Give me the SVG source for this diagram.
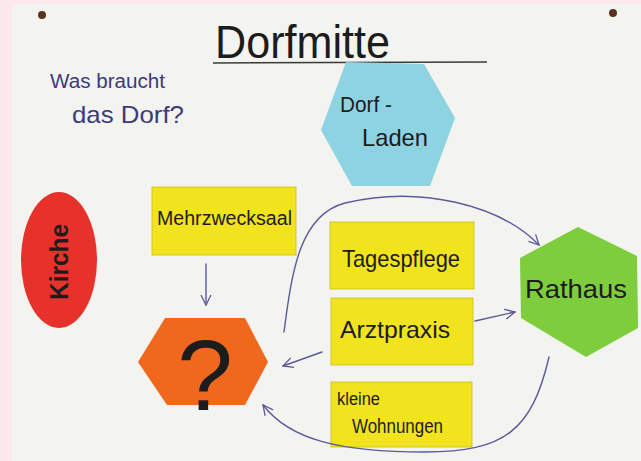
<svg xmlns="http://www.w3.org/2000/svg" width="641" height="461" viewBox="0 0 641 461">
<style>
.hw{font-family:"Liberation Sans","DejaVu Sans",sans-serif;fill:#1c1c1c}
.note{font-family:"Liberation Sans","DejaVu Sans",sans-serif;fill:#3d3a7a}
.yellow{fill:#f1e41e;stroke:#c9bd18;stroke-width:0.8}
.conn{fill:none;stroke:#5b5a9c;stroke-width:1.4;stroke-linecap:round}
</style>
<defs>
<marker id="arr" viewBox="0 0 12 12" refX="11" refY="6" markerWidth="12" markerHeight="12" markerUnits="userSpaceOnUse" orient="auto">
<path d="M1,1 L11,6 L1,11" fill="none" stroke="#5b5a9c" stroke-width="1.3"/>
</marker>
</defs>
<rect width="641" height="461" fill="#fbe8ec"/>
<rect x="12" y="4" width="629" height="457" fill="#f3f3ef"/>
<circle cx="42" cy="15" r="4" fill="#5a3320"/>
<circle cx="613" cy="13" r="4" fill="#5a3320"/>

<g id="title">
<text class="hw" x="215" y="58" font-size="46" textLength="175" lengthAdjust="spacingAndGlyphs">Dorfmitte</text>
<line x1="213" y1="63" x2="487" y2="62" stroke="#3a3a3a" stroke-width="1.5"/>
</g>
<g id="question">
<text class="note" x="50" y="88" font-size="20" textLength="115" lengthAdjust="spacingAndGlyphs">Was braucht</text>
<text class="note" x="72" y="123" font-size="24" textLength="112" lengthAdjust="spacingAndGlyphs">das Dorf?</text>
</g>

<g id="dorfladen">
<polygon points="346,62 424,64 455,118 430,186 352,186 321,130" fill="#8ed3e2"/>
<text class="hw" x="340" y="112" font-size="22" textLength="52" lengthAdjust="spacingAndGlyphs">Dorf -</text>
<text class="hw" x="362" y="146" font-size="24" textLength="66" lengthAdjust="spacingAndGlyphs">Laden</text>
</g>

<g id="kirche">
<ellipse cx="59" cy="260" rx="38" ry="68" fill="#e7322b"/>
<text class="hw" x="0" y="0" font-size="26" font-weight="bold" text-anchor="middle" transform="translate(68,262) rotate(-90)" textLength="76" lengthAdjust="spacingAndGlyphs">Kirche</text>
</g>

<g id="mehrzwecksaal">
<rect class="yellow" x="152" y="187" width="144" height="68"/>
<text class="hw" x="157" y="225" font-size="20" textLength="135" lengthAdjust="spacingAndGlyphs">Mehrzwecksaal</text>
</g>

<g id="frage">
<polygon points="165,318 245,318 268,362 245,405 167,405 138,362" fill="#f0681d"/>
<text class="hw" x="205" y="410" font-size="100" text-anchor="middle" font-weight="normal">?</text>
</g>

<g id="tagespflege">
<rect class="yellow" x="330" y="222" width="144" height="67"/>
<text class="hw" x="342" y="267" font-size="24" textLength="118" lengthAdjust="spacingAndGlyphs">Tagespflege</text>
</g>

<g id="arztpraxis">
<rect class="yellow" x="331" y="298" width="142" height="67"/>
<text class="hw" x="340" y="338" font-size="24" textLength="110" lengthAdjust="spacingAndGlyphs">Arztpraxis</text>
</g>

<g id="wohnungen">
<rect class="yellow" x="331" y="382" width="141" height="65"/>
<text class="hw" x="337" y="405" font-size="18" textLength="43" lengthAdjust="spacingAndGlyphs">kleine</text>
<text class="hw" x="352" y="433" font-size="21" textLength="91" lengthAdjust="spacingAndGlyphs">Wohnungen</text>
</g>

<g id="rathaus">
<polygon points="578,227 637,256 638,328 586,357 521,318 520,258" fill="#7ecd3c"/>
<text class="hw" x="525" y="298" font-size="26" textLength="102" lengthAdjust="spacingAndGlyphs">Rathaus</text>
</g>

<g id="connectors">
<line class="conn" x1="206" y1="264" x2="206" y2="305" marker-end="url(#arr)"/>
<path class="conn" d="M284,332 C292,270 300,215 345,203 C420,185 500,205 539,245" marker-end="url(#arr)"/>
<line class="conn" x1="475" y1="321" x2="515" y2="312" marker-end="url(#arr)"/>
<line class="conn" x1="322" y1="352" x2="283" y2="366" marker-end="url(#arr)"/>
<path class="conn" d="M549,357 C532,430 505,452 425,452 C340,452 290,440 263,405" marker-end="url(#arr)"/>
</g>
</svg>
